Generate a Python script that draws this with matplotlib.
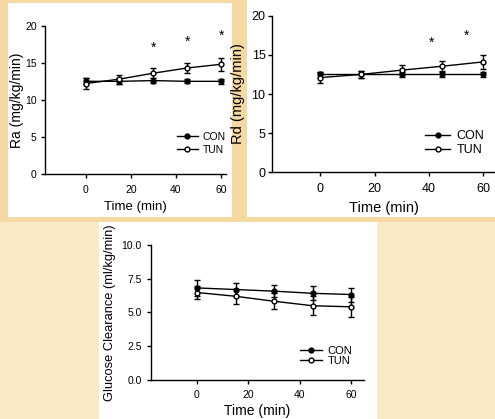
import matplotlib
matplotlib.use('Agg')
import matplotlib.pyplot as plt
from matplotlib.patches import Rectangle

plt.rcParams['font.family'] = ['Liberation Sans', 'DejaVu Sans']

# ---------------- data ----------------
time = [0, 15, 30, 45, 60]

ra_con = [12.5, 12.5, 12.6, 12.5, 12.5]
ra_con_err = [0.4, 0.4, 0.35, 0.25, 0.3]
ra_tun = [12.2, 12.8, 13.6, 14.3, 14.8]
ra_tun_err = [0.7, 0.6, 0.7, 0.7, 0.9]
ra_star_x = [30, 45, 60]
ra_star_y = [17.0, 17.8, 18.7]

rd_con = [12.5, 12.5, 12.5, 12.5, 12.5]
rd_con_err = [0.35, 0.4, 0.3, 0.3, 0.35]
rd_tun = [12.1, 12.5, 13.05, 13.55, 14.1]
rd_tun_err = [0.65, 0.5, 0.6, 0.65, 0.9]
rd_star_x = [41, 54]
rd_star_y = [16.6, 17.45]

gc_con = [6.82, 6.7, 6.58, 6.42, 6.33]
gc_con_err = [0.62, 0.5, 0.45, 0.53, 0.52]
gc_tun = [6.48, 6.2, 5.83, 5.5, 5.42]
gc_tun_err = [0.45, 0.55, 0.6, 0.7, 0.75]

labels = ['CON', 'TUN']
xticks = [0, 20, 40, 60]
# --------------------------------------

fig = plt.figure(figsize=(4.95, 4.19), dpi=100)
fig.patch.set_facecolor('#F9E9C6')
W, H = 495, 419


def box(x0, y0, x1, y1, color):
    fig.patches.append(Rectangle((x0 / W, 1 - y1 / H), (x1 - x0) / W, (y1 - y0) / H,
                                 transform=fig.transFigure, facecolor=color,
                                 edgecolor='none', zorder=-5))


# tan upper band and white panel backgrounds
box(0, 0, 495, 222, '#F4D9A3')
box(8, 3, 232, 217, 'white')
box(247, 0, 495, 217, 'white')
box(99, 222, 377, 419, 'white')


def panel(rect, con, con_err, tun, tun_err, xlim, ylim, yticks, ylabel,
          tick_fs, xpad, ypad, xlabel_fs, ylabel_fs, xlpad, ylpad,
          leg_fs, leg_anchor, leg_hl, leg_ls, yfmt=None):
    ax = fig.add_axes(rect)
    ax.set_zorder(2)
    ax.set_facecolor('none')
    ax.errorbar(time, con, yerr=con_err, color='black', lw=1, marker='o',
                ms=3.5, mfc='black', mec='black', capsize=2, elinewidth=1,
                label=labels[0])
    ax.errorbar(time, tun, yerr=tun_err, color='black', lw=1, marker='o',
                ms=3.5, mfc='white', mec='black', capsize=2, elinewidth=1,
                label=labels[1])
    ax.set_xlim(*xlim)
    ax.set_ylim(*ylim)
    ax.set_xticks(xticks)
    ax.set_yticks(yticks)
    if yfmt:
        ax.set_yticklabels([yfmt.format(v) for v in yticks])
    ax.spines['top'].set_visible(False)
    ax.spines['right'].set_visible(False)
    ax.spines['left'].set_linewidth(1)
    ax.spines['bottom'].set_linewidth(1)
    ax.tick_params(direction='out', length=3, width=1, labelsize=tick_fs)
    ax.tick_params(axis='x', pad=xpad)
    ax.tick_params(axis='y', pad=ypad)
    ax.set_xlabel('Time (min)', fontsize=xlabel_fs, labelpad=xlpad)
    ax.set_ylabel(ylabel, fontsize=ylabel_fs, labelpad=ylpad)
    handles, labs = ax.get_legend_handles_labels()
    handles = [h[0] for h in handles]
    ax.legend(handles, labs, loc='center left', bbox_to_anchor=leg_anchor,
              frameon=False, fontsize=leg_fs, handlelength=leg_hl,
              handletextpad=0.5, labelspacing=leg_ls, borderpad=0,
              borderaxespad=0)
    return ax


ax1 = panel([0.0909, 0.5847, 0.3648, 0.3539], ra_con, ra_con_err, ra_tun, ra_tun_err,
            (-18, 62), (0, 20), [0, 5, 10, 15, 20], 'Ra (mg/kg/min)',
            7.5, 5, 3, 9.5, 10, 4, 1,
            7.5, (0.73, 0.206), 2.0, 0.3)
for x, y in zip(ra_star_x, ra_star_y):
    ax1.text(x, y, '*', ha='center', va='center', fontsize=10)

ax2 = panel([0.5489, 0.5888, 0.4544, 0.3737], rd_con, rd_con_err, rd_tun, rd_tun_err,
            (-18, 65), (0, 20), [0, 5, 10, 15, 20], 'Rd (mg/kg/min)',
            9, 5, 1.5, 10.5, 10.5, 4, 5,
            9, (0.682, 0.187), 2.0, 0.15)
for x, y in zip(rd_star_x, rd_star_y):
    ax2.text(x, y, '*', ha='center', va='center', fontsize=10)

ax3 = panel([0.3044, 0.0931, 0.4315, 0.3222], gc_con, gc_con_err, gc_tun, gc_tun_err,
            (-18, 65), (0, 10), [0, 2.5, 5, 7.5, 10], 'Glucose Clearance (ml/kg/min)',
            7.5, 4, 3.5, 10, 9.3, 3, 4,
            8, (0.699, 0.181), 2.0, 0.0, yfmt='{:.1f}')

fig.savefig('out.png', dpi=100, facecolor=fig.get_facecolor())
